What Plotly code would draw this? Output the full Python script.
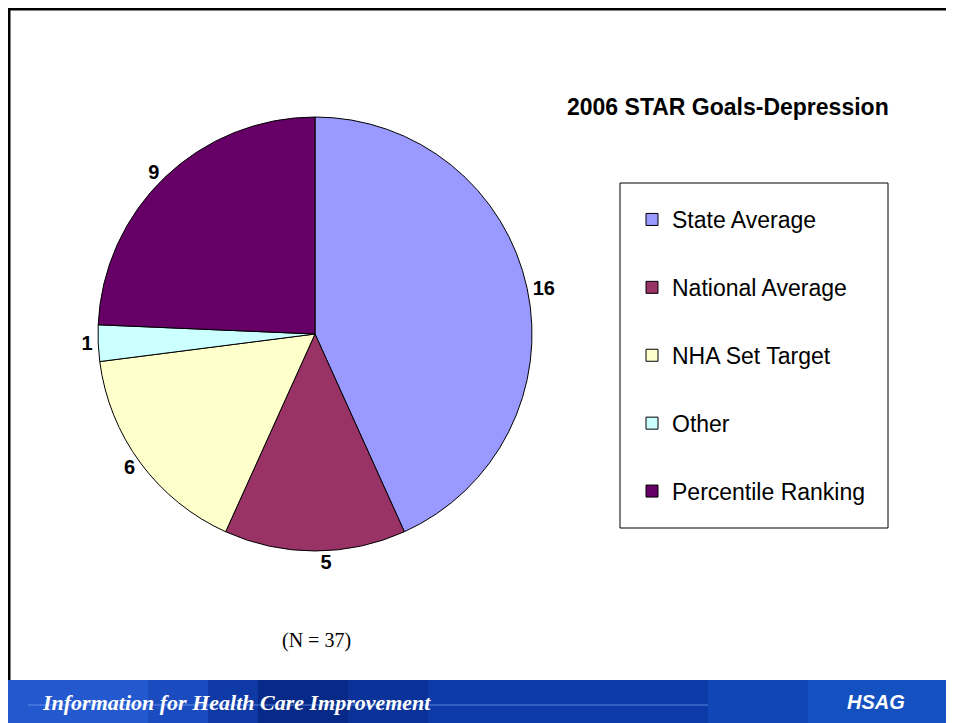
import plotly.graph_objects as go

categorias = ['State Average', 'National Average', 'NHA Set Target', 'Other', 'Percentile Ranking']
valores = [16, 5, 6, 1, 9]
cores = ['#9999FF', '#993366', '#FFFFCC', '#CCFFFF', '#660066']

# a página tem 8px de margem, então a figura fica um pouco menor
W, H = 946, 715


def px(x):
    return x / W


def py(y):
    return 1 - y / H


fig = go.Figure()

fig.add_trace(go.Pie(
    labels=categorias, values=valores, sort=False, direction='clockwise', rotation=0,
    marker=dict(colors=cores, line=dict(color='black', width=1)),
    textinfo='value', textposition='outside',
    textfont=dict(family='Liberation Sans', size=20, color='black', weight='bold'),
    domain=dict(x=[px(90), px(524)], y=[py(543), py(109)]),
    showlegend=False, hoverinfo='label+value'))

# legenda separada (itens bem espaçados como no slide)
for nome, cor in zip(categorias, cores):
    fig.add_trace(go.Scatter(
        x=[None], y=[None], mode='markers', name=nome, legendgroup=nome,
        marker=dict(symbol='square', size=12, color=cor, line=dict(color='black', width=1))))

faixa = [(0, 140, '#2358cf'), (140, 200, '#1a4cc0'), (200, 250, '#0f3aa6'), (250, 340, '#072a88'),
         (340, 420, '#0a3298'), (420, 700, '#0c3aa8'), (700, 800, '#1146b6'), (800, W, '#1450c0')]

shapes = [
    # moldura do slide
    dict(type='line', xref='paper', yref='paper', x0=0, x1=1, y0=py(1), y1=py(1),
         line=dict(color='black', width=3)),
    dict(type='line', xref='paper', yref='paper', x0=px(1), x1=px(1), y0=1, y1=py(672),
         line=dict(color='black', width=3)),
    # caixa da legenda
    dict(type='rect', xref='paper', yref='paper', x0=px(612), x1=px(880), y0=py(175), y1=py(520),
         line=dict(color='black', width=1), fillcolor='rgba(0,0,0,0)'),
]
# faixa azul do rodapé
for x0, x1, c in faixa:
    shapes.append(dict(type='rect', xref='paper', yref='paper', x0=px(x0), x1=px(x1), y0=0, y1=py(672),
                       line=dict(width=0), fillcolor=c, layer='below'))
shapes.append(dict(type='line', xref='paper', yref='paper', x0=px(20), x1=px(700), y0=py(697), y1=py(697),
                   line=dict(color='rgba(140,180,255,0.6)', width=1), layer='below'))

annotations = [
    dict(text='<b>2006 STAR Goals-Depression</b>', x=px(720), y=py(99), xref='paper', yref='paper',
         xanchor='center', yanchor='middle', showarrow=False,
         font=dict(family='Liberation Sans', size=23, color='black')),
    dict(text='(N = 37)', x=px(308), y=py(632), xref='paper', yref='paper',
         xanchor='center', yanchor='middle', showarrow=False,
         font=dict(family='Liberation Serif', size=20, color='black')),
    dict(text='<b><i>Information for Health Care Improvement</i></b>', x=px(32), y=py(694),
         xref='paper', yref='paper', xanchor='left', yanchor='middle', showarrow=False,
         font=dict(family='Liberation Serif', size=22, color='white')),
    dict(text='<b><i>HSAG</i></b>', x=px(868), y=py(694), xref='paper', yref='paper',
         xanchor='center', yanchor='middle', showarrow=False,
         font=dict(family='Liberation Sans', size=20, color='white')),
]

fig.update_layout(
    width=W, height=H, margin=dict(l=0, r=0, t=0, b=0),
    paper_bgcolor='white', plot_bgcolor='white',
    xaxis=dict(visible=False), yaxis=dict(visible=False),
    showlegend=True,
    legend=dict(x=px(624), y=py(190), xanchor='left', yanchor='top', tracegroupgap=35,
                bgcolor='rgba(0,0,0,0)', borderwidth=0,
                font=dict(family='Liberation Sans', size=23, color='black')),
    shapes=shapes, annotations=annotations)

fig.write_html('out.html')
